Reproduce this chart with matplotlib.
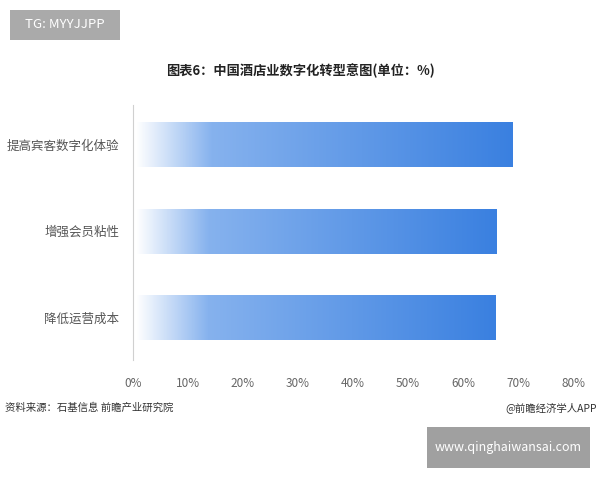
import numpy as np
import matplotlib
matplotlib.use('Agg')
from matplotlib import pyplot as plt
from matplotlib.colors import LinearSegmentedColormap
from matplotlib.patches import Rectangle

plt.rcParams['font.family'] = ['Noto Sans CJK SC', 'DejaVu Sans']

categories = ['提高宾客数字化体验', '增强会员粘性', '降低运营成本']
values = [69.0, 66.0, 65.8]
xticks = [0, 10, 20, 30, 40, 50, 60, 70, 80]
title = '图表6：中国酒店业数字化转型意图(单位：%)'
source = '资料来源：石基信息 前瞻产业研究院'
credit = '@前瞻经济学人APP'

fig = plt.figure(figsize=(6, 4.8), dpi=100)
ax = fig.add_axes([0.2217, 0.25, 0.7333, 0.53125])

cmap = LinearSegmentedColormap.from_list(
    'bar', [(0, '#ffffff'), (0.2, '#86b2ee'), (1, '#3a80e0')])
grad = np.linspace(0, 1, 256).reshape(1, -1)

h = 0.52
for i, v in enumerate(values):
    rect = Rectangle((0, i - h / 2), v, h, facecolor='none', edgecolor='none')
    ax.add_patch(rect)
    im = ax.imshow(grad, cmap=cmap, aspect='auto',
                   extent=[0.5, v, i + h / 2, i - h / 2], zorder=2)
    im.set_clip_path(rect)

ax.set_xlim(0, 80)
ax.set_ylim(2.49, -0.46)
ax.set_yticks(range(len(categories)))
ax.set_yticklabels(categories, fontsize=9, color='#555555')
ax.set_xticks(xticks)
ax.set_xticklabels([f'{t}%' for t in xticks], fontsize=8.5, color='#666666')
ax.tick_params(axis='both', length=0)
ax.tick_params(axis='x', pad=12)
ax.tick_params(axis='y', pad=10)
for s in ['top', 'right', 'bottom']:
    ax.spines[s].set_visible(False)
ax.spines['left'].set_color('#d0d0d0')

fig.text(0.5, 0.853, title, ha='center', va='center', fontsize=9.5,
         fontweight='bold', color='#222222')
fig.text(0.008, 0.15, source, ha='left', va='center', fontsize=7.5, color='#333333')
fig.text(0.995, 0.15, credit, ha='right', va='center', fontsize=7.5, color='#333333')

# label boxes
fig.patches.append(Rectangle((10 / 600, 1 - 40 / 480), 110 / 600, 30 / 480,
                             transform=fig.transFigure, facecolor='#aaaaaa',
                             edgecolor='none'))
fig.text(65 / 600, 1 - 25 / 480, 'TG: MYYJJPP', ha='center', va='center',
         fontsize=9.5, color='white')
fig.patches.append(Rectangle((427 / 600, 1 - 468 / 480), 163 / 600, 41 / 480,
                             transform=fig.transFigure, facecolor='#a0a0a0',
                             edgecolor='none'))
fig.text(508 / 600, 1 - 447 / 480, 'www.qinghaiwansai.com', ha='center',
         va='center', fontsize=9, color='white')

fig.savefig('out.png', dpi=100)
